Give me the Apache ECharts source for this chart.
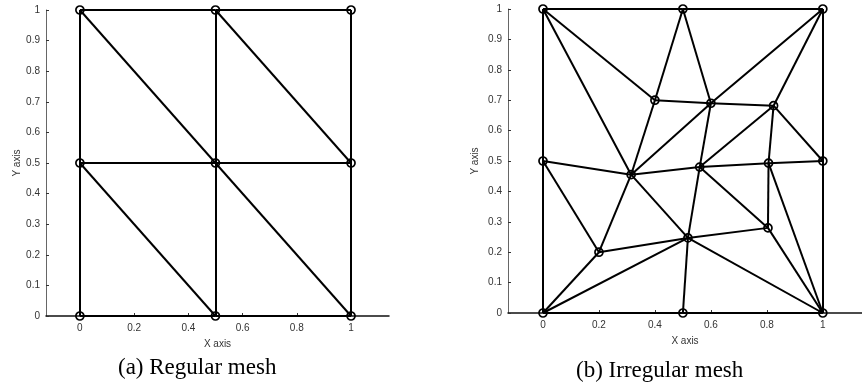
<!DOCTYPE html>
<html>
<head>
<meta charset="utf-8">
<script src="https://cdn.jsdelivr.net/npm/echarts@6/dist/echarts.min.js"></script>
<style>
  html, body { margin: 0; padding: 0; background: #fff; }
  #chart { width: 862px; height: 392px; }
</style>
</head>
<body>
<div id="chart"></div>
<script>
// (a) regular mesh
const regularX = [0, 0.5, 1, 0, 0.5, 1, 0, 0.5, 1]
const regularY = [0, 0, 0, 0.5, 0.5, 0.5, 1, 1, 1]
const regularEdges = [
  [0, 1], [1, 2], [0, 3], [3, 6], [1, 4], [4, 7], [2, 5], [5, 8],
  [3, 4], [4, 5], [6, 7], [7, 8], [6, 4], [7, 5], [3, 1], [4, 2]
]

// (b) irregular mesh
const irregularX = [0, 0.5, 1, 0, 1, 0, 0.5, 1, 0.4, 0.6, 0.824, 0.315, 0.56, 0.806, 0.2, 0.518, 0.804]
const irregularY = [0, 0, 0, 0.5, 0.5, 1, 1, 1, 0.7, 0.69, 0.682, 0.455, 0.48, 0.493, 0.2, 0.247, 0.28]
const irregularEdges = [
  [0, 1], [1, 2], [0, 3], [3, 5], [2, 4], [4, 7], [5, 6], [6, 7],
  [5, 8], [5, 11], [6, 8], [6, 9], [7, 9], [7, 10], [8, 9], [8, 11],
  [9, 10], [9, 11], [9, 12], [10, 12], [10, 13], [10, 4], [3, 11], [3, 14],
  [11, 12], [11, 14], [11, 15], [12, 13], [13, 4], [12, 15], [12, 16], [13, 16],
  [13, 2], [16, 15], [16, 2], [14, 15], [14, 0], [0, 15], [15, 1], [15, 2]
]

const xTicks = [0, 0.2, 0.4, 0.6, 0.8, 1]
const captions = ['(a) Regular mesh', '(b) Irregular mesh']

const labelFont = 'Liberation Sans, Arial, sans-serif'
const captionFont = '23px "Liberation Serif", "Times New Roman", serif'

function makeX (idx) {
  return {
    type: 'value',
    gridIndex: idx,
    min: -0.125,
    max: 1.14,
    name: 'X axis',
    nameLocation: 'middle',
    nameGap: 23,
    nameTextStyle: { color: '#333', fontSize: 10, fontFamily: labelFont },
    splitLine: { show: false },
    axisLine: { onZero: false, lineStyle: { color: '#111', width: 1.5 } },
    axisTick: { inside: true, length: 3, customValues: xTicks, lineStyle: { color: '#333' } },
    axisLabel: { customValues: xTicks, color: '#333', fontSize: 10, fontFamily: labelFont, margin: 7 }
  }
}

function makeY (idx, gap) {
  return {
    type: 'value',
    gridIndex: idx,
    min: 0,
    max: 1,
    interval: 0.1,
    name: 'Y axis',
    nameLocation: 'middle',
    nameGap: gap,
    nameTextStyle: { color: '#333', fontSize: 10, fontFamily: labelFont },
    splitLine: { show: false },
    axisLine: { onZero: false, lineStyle: { color: '#666', width: 1 } },
    axisTick: { inside: true, length: 3, lineStyle: { color: '#333' } },
    axisLabel: {
      color: '#333', fontSize: 10, fontFamily: labelFont, margin: 6,
      formatter: v => String(Math.round(v * 10) / 10)
    }
  }
}

function makeMesh (idx, xs, ys, edges) {
  return {
    type: 'graph',
    coordinateSystem: 'cartesian2d',
    xAxisIndex: idx,
    yAxisIndex: idx,
    layout: 'none',
    silent: true,
    symbol: 'circle',
    symbolSize: 8,
    itemStyle: { color: 'rgba(0,0,0,0)', borderColor: '#000', borderWidth: 1.7 },
    lineStyle: { color: '#000', width: 2, opacity: 1, curveness: 0 },
    emphasis: { disabled: true },
    data: xs.map((x, i) => ({ name: 'n' + i, value: [x, ys[i]] })),
    links: edges.map(e => ({ source: e[0], target: e[1] }))
  }
}

const chart = echarts.init(document.getElementById('chart'))
chart.setOption({
  animation: false,
  backgroundColor: '#fff',
  grid: [
    { left: 46, top: 10, width: 343, height: 306 },
    { left: 508, top: 9, width: 367, height: 304 }
  ],
  xAxis: [makeX(0), makeX(1)],
  yAxis: [makeY(0, 24), makeY(1, 28)],
  graphic: [
    {
      type: 'text', left: 118, top: 356,
      style: { text: captions[0], fill: '#000', font: captionFont }
    },
    {
      type: 'text', left: 576, top: 359,
      style: { text: captions[1], fill: '#000', font: captionFont }
    }
  ],
  series: [
    makeMesh(0, regularX, regularY, regularEdges),
    makeMesh(1, irregularX, irregularY, irregularEdges)
  ]
})
</script>
</body>
</html>
